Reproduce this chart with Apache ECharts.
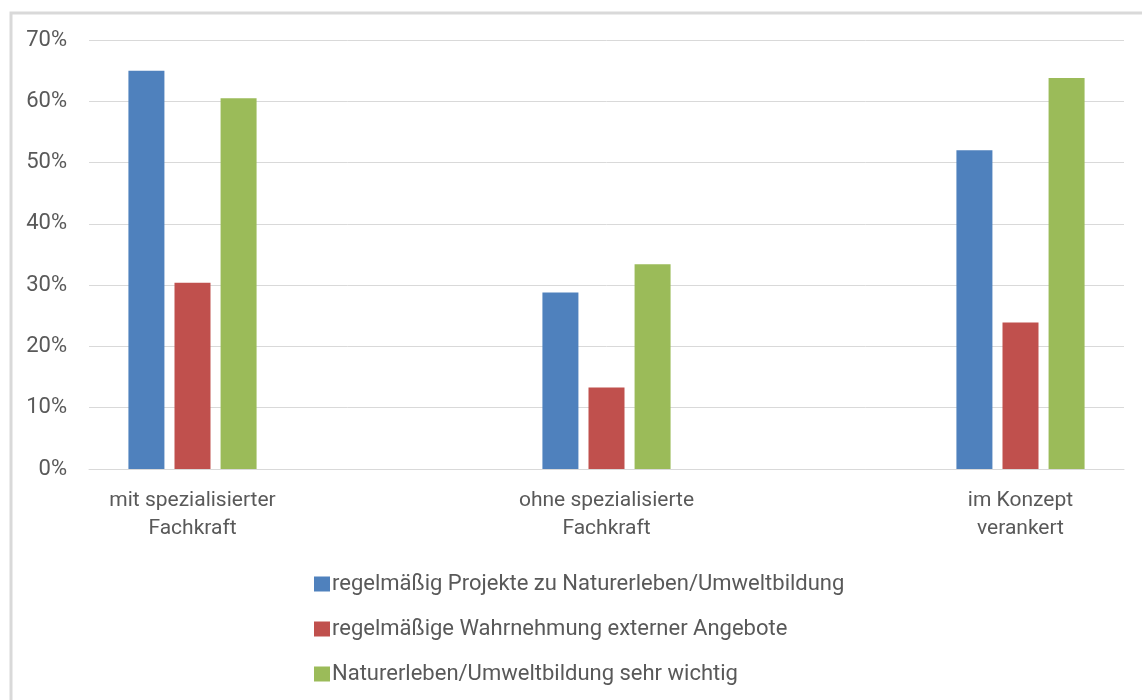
<!DOCTYPE html>
<html>
<head>
<meta charset="utf-8">
<script src="https://cdn.jsdelivr.net/npm/echarts@6/dist/echarts.min.js"></script>
<style>
  html, body { margin: 0; padding: 0; background: #ffffff; }
  #chart { width: 1142px; height: 700px; }
</style>
</head>
<body>
<div id="chart"></div>
<script>
// Kategorien (Kita-Gruppen)
const categories = [
  'mit spezialisierter\nFachkraft',
  'ohne spezialisierte\nFachkraft',
  'im Konzept\nverankert'
];

// Anteile in Prozent je Reihe
const seriesNames = [
  'regelmäßig Projekte zu Naturerleben/Umweltbildung',
  'regelmäßige Wahrnehmung externer Angebote',
  'Naturerleben/Umweltbildung sehr wichtig'
];
const projekte = [65.0, 28.8, 52.0];
const externeAngebote = [30.4, 13.3, 23.9];
const sehrWichtig = [60.5, 33.4, 63.8];

const yTicks = [0, 10, 20, 30, 40, 50, 60, 70];

const colors = ['#4F81BD', '#C0504D', '#9BBB59'];
const textColor = '#595959';
const fontFamily = 'Roboto, "Liberation Sans", sans-serif';

// The three groups sit on every other slot of a five-slot category axis,
// which leaves the wide spacing between the groups.
const slots = [];
categories.forEach((c, i) => { if (i > 0) slots.push(''); slots.push(c); });
const spread = arr => {
  const out = [];
  arr.forEach((v, i) => { if (i > 0) out.push(null); out.push(v); });
  return out;
};

const values = [projekte, externeAngebote, sehrWichtig];

const chart = echarts.init(document.getElementById('chart'), null, { renderer: 'canvas' });

chart.setOption({
  animation: false,
  backgroundColor: '#ffffff',
  graphic: [{
    type: 'rect',
    left: 8.5, top: 10.5,
    shape: { x: 0, y: 0, width: 1300, height: 900 },
    style: { fill: 'none', stroke: '#d9d9d9', lineWidth: 3 },
    silent: true,
    z: -1
  }],
  grid: { left: 89, right: 18, top: 40, bottom: 231, containLabel: false },
  xAxis: {
    type: 'category',
    data: slots,
    axisLine: { show: true, lineStyle: { color: '#d9d9d9', width: 1 } },
    axisTick: { show: false },
    axisLabel: {
      interval: 0,
      margin: 18,
      color: textColor,
      fontFamily: fontFamily,
      fontSize: 21,
      lineHeight: 28
    },
    splitLine: { show: false }
  },
  yAxis: {
    type: 'value',
    min: yTicks[0],
    max: yTicks[yTicks.length - 1],
    interval: 10,
    axisLine: { show: false },
    axisTick: { show: false },
    axisLabel: {
      margin: 22,
      color: textColor,
      fontFamily: fontFamily,
      fontSize: 22,
      formatter: v => v + '%'
    },
    splitLine: { show: true, lineStyle: { color: '#d9d9d9', width: 1 } }
  },
  legend: {
    orient: 'vertical',
    left: 314,
    top: 572,
    padding: 0,
    icon: 'rect',
    itemWidth: 16,
    itemHeight: 15,
    itemGap: 21,
    textStyle: {
      color: textColor,
      fontFamily: fontFamily,
      fontSize: 22,
      lineHeight: 24,
      padding: [0, 0, 0, -3]
    },
    data: seriesNames
  },
  series: seriesNames.map((name, i) => ({
    name: name,
    type: 'bar',
    data: spread(values[i]),
    barWidth: 36,
    barGap: '28%',
    itemStyle: { color: colors[i] }
  }))
});
</script>
</body>
</html>
